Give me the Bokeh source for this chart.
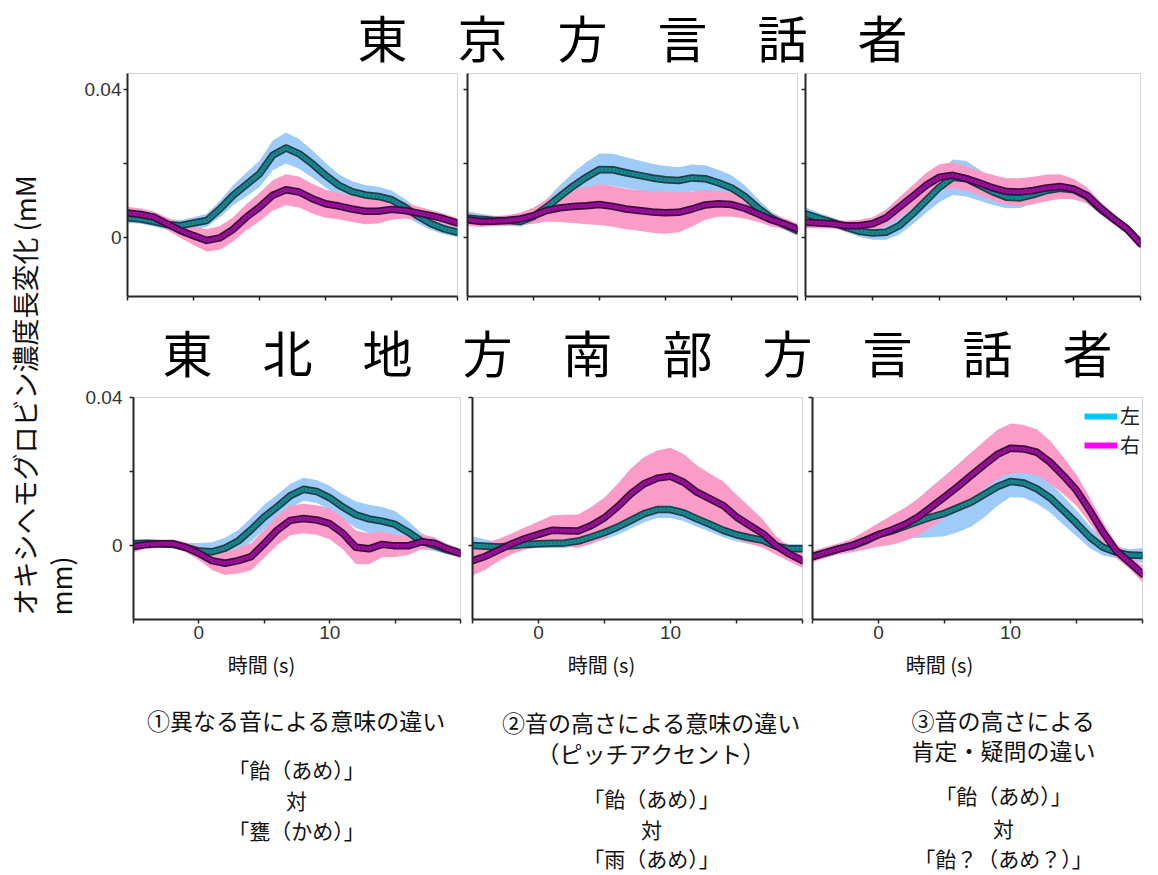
import numpy as np
from bokeh.plotting import figure
from bokeh.layouts import row, column
from bokeh.models import Range1d, FixedTicker, Legend, LegendItem
from bokeh.core.properties import value
from bokeh.embed import file_html
from bokeh.resources import INLINE

# ---------------- data ----------------
time_s = list(range(-5, 21))

# 東京方言話者 (row 1)
tokyo_c1_left = [0.0053,0.0050,0.0043,0.0035,0.0032,0.0039,0.0046,0.0077,0.0114,0.0143,0.0172,0.0222,0.0242,0.0226,0.0199,0.0168,0.0141,0.0124,0.0115,0.0111,0.0102,0.0082,0.0058,0.0037,0.0023,0.0014]
tokyo_c1_left_se = [0.0013,0.0013,0.0013,0.0014,0.0015,0.0016,0.0018,0.0022,0.0027,0.0032,0.0036,0.0040,0.0042,0.0040,0.0037,0.0033,0.0030,0.0028,0.0027,0.0026,0.0025,0.0023,0.0020,0.0017,0.0015,0.0013]
tokyo_c1_right = [0.0066,0.0062,0.0055,0.0037,0.0019,0.0005,-0.0008,-0.0001,0.0022,0.0055,0.0082,0.0114,0.0129,0.0123,0.0105,0.0091,0.0085,0.0077,0.0071,0.0071,0.0076,0.0073,0.0066,0.0059,0.0050,0.0039]
tokyo_c1_right_se = [0.0017,0.0016,0.0015,0.0017,0.0020,0.0025,0.0030,0.0032,0.0033,0.0035,0.0038,0.0041,0.0042,0.0042,0.0040,0.0038,0.0036,0.0035,0.0035,0.0033,0.0028,0.0022,0.0018,0.0015,0.0014,0.0013]

tokyo_c2_left = [0.0053,0.0049,0.0046,0.0046,0.0043,0.0057,0.0082,0.0111,0.0139,0.0163,0.0184,0.0183,0.0175,0.0168,0.0161,0.0156,0.0154,0.0161,0.0159,0.0148,0.0134,0.0111,0.0080,0.0053,0.0035,0.0019]
tokyo_c2_left_se = [0.0018,0.0015,0.0013,0.0013,0.0014,0.0016,0.0022,0.0030,0.0036,0.0040,0.0043,0.0043,0.0042,0.0040,0.0038,0.0037,0.0036,0.0036,0.0036,0.0035,0.0034,0.0030,0.0024,0.0018,0.0015,0.0015]
tokyo_c2_right = [0.0048,0.0043,0.0044,0.0046,0.0050,0.0059,0.0073,0.0080,0.0084,0.0086,0.0089,0.0084,0.0077,0.0073,0.0069,0.0067,0.0068,0.0077,0.0088,0.0091,0.0089,0.0079,0.0064,0.0048,0.0037,0.0023]
tokyo_c2_right_se = [0.0017,0.0015,0.0013,0.0014,0.0017,0.0022,0.0030,0.0038,0.0045,0.0050,0.0055,0.0055,0.0055,0.0055,0.0056,0.0057,0.0054,0.0047,0.0040,0.0035,0.0032,0.0028,0.0022,0.0018,0.0015,0.0015]

tokyo_c3_left = [0.0064,0.0052,0.0041,0.0028,0.0017,0.0012,0.0014,0.0032,0.0064,0.0100,0.0136,0.0163,0.0159,0.0141,0.0123,0.0109,0.0107,0.0116,0.0127,0.0133,0.0129,0.0111,0.0077,0.0050,0.0023,-0.0015]
tokyo_c3_left_se = [0.0018,0.0015,0.0013,0.0013,0.0015,0.0018,0.0020,0.0024,0.0028,0.0033,0.0040,0.0048,0.0048,0.0042,0.0035,0.0030,0.0027,0.0025,0.0022,0.0020,0.0018,0.0016,0.0014,0.0013,0.0013,0.0012]
tokyo_c3_right = [0.0041,0.0039,0.0037,0.0032,0.0032,0.0037,0.0053,0.0082,0.0111,0.0141,0.0163,0.0168,0.0159,0.0147,0.0134,0.0124,0.0123,0.0127,0.0134,0.0138,0.0131,0.0114,0.0080,0.0050,0.0023,-0.0017]
tokyo_c3_right_se = [0.0016,0.0014,0.0013,0.0013,0.0015,0.0018,0.0022,0.0027,0.0030,0.0033,0.0035,0.0035,0.0033,0.0033,0.0035,0.0036,0.0037,0.0037,0.0036,0.0033,0.0028,0.0022,0.0017,0.0014,0.0013,0.0012]

# 東北地方南部方言話者 (row 2)
tohoku_c1_left = [0.0005,0.0006,0.0005,0.0003,-0.0005,-0.0015,-0.0017,-0.0007,0.0012,0.0043,0.0077,0.0105,0.0135,0.0152,0.0146,0.0129,0.0104,0.0083,0.0072,0.0066,0.0057,0.0036,0.0012,0.0000,-0.0012,-0.0021]
tohoku_c1_left_se = [0.0011,0.0010,0.0010,0.0010,0.0012,0.0022,0.0026,0.0028,0.0030,0.0032,0.0033,0.0033,0.0032,0.0031,0.0031,0.0032,0.0034,0.0036,0.0038,0.0038,0.0036,0.0030,0.0022,0.0015,0.0012,0.0011]
tohoku_c1_right = [-0.0003,0.0003,0.0005,0.0005,-0.0005,-0.0021,-0.0041,-0.0048,-0.0041,-0.0030,0.0005,0.0042,0.0068,0.0073,0.0069,0.0059,0.0033,-0.0005,-0.0009,0.0003,-0.0001,-0.0001,0.0010,0.0006,-0.0009,-0.0021]
tohoku_c1_right_se = [0.0015,0.0012,0.0011,0.0011,0.0013,0.0018,0.0025,0.0032,0.0035,0.0037,0.0038,0.0040,0.0040,0.0040,0.0040,0.0042,0.0043,0.0045,0.0042,0.0035,0.0030,0.0025,0.0020,0.0016,0.0013,0.0013]

tohoku_c2_left = [0.0000,-0.0002,-0.0004,-0.0001,0.0003,0.0005,0.0006,0.0007,0.0012,0.0023,0.0035,0.0050,0.0068,0.0086,0.0097,0.0097,0.0088,0.0072,0.0057,0.0041,0.0029,0.0021,0.0014,-0.0002,-0.0009,-0.0009]
tohoku_c2_left_se = [0.0025,0.0018,0.0013,0.0011,0.0011,0.0012,0.0013,0.0014,0.0015,0.0017,0.0019,0.0021,0.0022,0.0023,0.0023,0.0023,0.0022,0.0021,0.0020,0.0019,0.0018,0.0017,0.0015,0.0014,0.0013,0.0013]
tohoku_c2_right = [-0.0041,-0.0029,-0.0012,0.0005,0.0019,0.0030,0.0041,0.0040,0.0039,0.0054,0.0075,0.0105,0.0140,0.0167,0.0182,0.0187,0.0171,0.0144,0.0126,0.0108,0.0077,0.0054,0.0032,0.0000,-0.0023,-0.0041]
tohoku_c2_right_se = [0.0040,0.0036,0.0030,0.0028,0.0030,0.0035,0.0040,0.0043,0.0045,0.0050,0.0055,0.0062,0.0068,0.0072,0.0075,0.0077,0.0076,0.0072,0.0068,0.0065,0.0060,0.0050,0.0038,0.0025,0.0020,0.0020]

tohoku_c3_left = [-0.0030,-0.0020,-0.0009,-0.0001,0.0012,0.0030,0.0039,0.0052,0.0065,0.0077,0.0087,0.0102,0.0117,0.0138,0.0159,0.0173,0.0169,0.0153,0.0129,0.0095,0.0060,0.0023,-0.0005,-0.0018,-0.0026,-0.0027]
tohoku_c3_left_se = [0.0012,0.0012,0.0012,0.0012,0.0013,0.0014,0.0016,0.0030,0.0045,0.0055,0.0062,0.0066,0.0066,0.0062,0.0052,0.0042,0.0040,0.0040,0.0040,0.0038,0.0035,0.0030,0.0022,0.0016,0.0016,0.0020]
tohoku_c3_right = [-0.0030,-0.0019,-0.0009,0.0000,0.0014,0.0029,0.0042,0.0057,0.0077,0.0104,0.0131,0.0159,0.0189,0.0218,0.0246,0.0263,0.0261,0.0252,0.0225,0.0189,0.0149,0.0095,0.0036,-0.0014,-0.0045,-0.0077]
tohoku_c3_right_se = [0.0015,0.0015,0.0015,0.0018,0.0025,0.0032,0.0040,0.0045,0.0050,0.0054,0.0057,0.0060,0.0062,0.0064,0.0066,0.0067,0.0065,0.0062,0.0058,0.0050,0.0042,0.0035,0.0028,0.0020,0.0018,0.0022]

x_tick_labeled = [0, 10]
x_tick_unlabeled = [-5, 5, 15, 20]
y_tick_labeled = [0, 0.04]
y_tick_unlabeled = [0.02]

title_tokyo = "東　京　方　言　話　者"
title_tohoku = "東　北　地　方　南　部　方　言　話　者"
ylabel_line1 = "オキシヘモグロビン濃度長変化 (mM"
ylabel_line2 = "mm)"
xlabel = "時間 (s)"
legend_labels = ["左", "右"]
captions = [
    ["①異なる音による意味の違い", None, "「飴（あめ）」", "対", "「甕（かめ）」"],
    ["②音の高さによる意味の違い", "（ピッチアクセント）", "「飴（あめ）」", "対", "「雨（あめ）」"],
    ["③音の高さによる", "肯定・疑問の違い", "「飴（あめ）」", "対", "「飴？（あめ？）」"],
]

# ---------------- styles ----------------
JP = "Noto Sans CJK JP"
BLUE_BAND = "#9ecbf8"
PINK_BAND = "#fb9cc8"
TEAL_OUT, TEAL_IN = "#1f3e46", "#168892"
PURP_OUT, PURP_IN = "#3e0b40", "#9b0f9c"
AX = "#262626"


def panel(width, height, yr, borders, left, left_se, right, right_se,
          ylabels=False, xlabels=False, y_standoff=2, legend_src=False):
    bl, br, bt, bb = borders
    p = figure(width=width, height=height, x_range=Range1d(-5, 20), y_range=yr,
               toolbar_location=None, output_backend="svg",
               min_border_left=bl, min_border_right=br,
               min_border_top=bt, min_border_bottom=bb)
    p.background_fill_color = "white"
    p.border_fill_color = "white"
    p.outline_line_color = "#d4d4d4"
    p.outline_line_width = 1
    p.grid.visible = False
    t = np.array(time_s)
    legend_renderers = None
    if legend_src:
        # plain-coloured copies of the means, hidden beneath the bands; they feed the legend
        r_l = p.line(t, left, line_color="#00c8ff", line_width=6)
        r_r = p.line(t, right, line_color="#ff00ff", line_width=6)
        legend_renderers = (r_l, r_r)
    for mean, se, col in ((left, left_se, BLUE_BAND), (right, right_se, PINK_BAND)):
        m, s = np.array(mean), np.array(se)
        p.varea(x=t, y1=m - s, y2=m + s, fill_color=col, fill_alpha=1.0)
    for mean, c_out, c_in in ((left, TEAL_OUT, TEAL_IN), (right, PURP_OUT, PURP_IN)):
        p.line(t, mean, line_color=c_out, line_width=7.5, line_join="round", line_cap="round")
        p.line(t, mean, line_color=c_in, line_width=4, line_join="round", line_cap="round")
        p.line(t, mean, line_color=c_out, line_width=1.5, line_dash="1 3", line_alpha=0.6)
    # axes
    if xlabels:
        p.xaxis.ticker = FixedTicker(ticks=x_tick_labeled, minor_ticks=x_tick_unlabeled)
    else:
        p.xaxis.ticker = FixedTicker(ticks=[], minor_ticks=x_tick_labeled + x_tick_unlabeled)
    if ylabels:
        p.yaxis.ticker = FixedTicker(ticks=y_tick_labeled, minor_ticks=y_tick_unlabeled)
        p.yaxis.major_label_overrides = {0: "0", 0.04: "0.04"}
    else:
        p.yaxis.ticker = FixedTicker(ticks=[], minor_ticks=y_tick_labeled + y_tick_unlabeled)
    for ax in (p.xaxis[0], p.yaxis[0]):
        ax.axis_line_color = AX
        ax.axis_line_width = 2
        ax.major_tick_line_color = AX
        ax.major_tick_line_width = 1.5
        ax.major_tick_in = 0
        ax.major_tick_out = 4
        ax.minor_tick_line_color = AX
        ax.minor_tick_line_width = 1.5
        ax.minor_tick_in = 0
        ax.minor_tick_out = 4
        ax.major_label_text_font = "Liberation Sans"
        ax.major_label_text_font_size = "19px"
        ax.major_label_text_color = "#333333"
    p.yaxis.major_label_standoff = y_standoff
    p.xaxis.major_label_standoff = 2
    return p, legend_renderers


def text_fig(w, h, x0, y0):
    f = figure(width=w, height=h, x_range=Range1d(x0, x0 + w), y_range=Range1d(y0 + h, y0),
               toolbar_location=None, output_backend="svg",
               x_axis_type=None, y_axis_type=None, min_border=0)
    f.outline_line_color = None
    f.grid.visible = False
    f.background_fill_color = "white"
    f.border_fill_color = "white"
    return f


# ---------------- row 1 (Tokyo) ----------------
yr_top = Range1d(-0.01595, 0.04432)
p1, _ = panel(382, 231, yr_top, (47, 5, 0, 8), tokyo_c1_left, tokyo_c1_left_se, tokyo_c1_right, tokyo_c1_right_se, ylabels=True, y_standoff=2)
p2, _ = panel(338, 231, yr_top, (5, 3, 0, 8), tokyo_c2_left, tokyo_c2_left_se, tokyo_c2_right, tokyo_c2_right_se)
p3, _ = panel(356, 231, yr_top, (5, 16, 0, 8), tokyo_c3_left, tokyo_c3_left_se, tokyo_c3_right, tokyo_c3_right_se)

# ---------------- row 2 (Tohoku) ----------------
yr_bot = Range1d(-0.02, 0.04)
p4, _ = panel(386, 262, yr_bot, (53, 6, 11, 29), tohoku_c1_left, tohoku_c1_left_se, tohoku_c1_right, tohoku_c1_right_se, ylabels=True, xlabels=True, y_standoff=7)
p5, _ = panel(340, 262, yr_bot, (6, 4, 11, 29), tohoku_c2_left, tohoku_c2_left_se, tohoku_c2_right, tohoku_c2_right_se, xlabels=True)
p6, (r_l, r_r) = panel(350, 262, yr_bot, (6, 14, 11, 29), tohoku_c3_left, tohoku_c3_left_se, tohoku_c3_right, tohoku_c3_right_se, xlabels=True, legend_src=True)

leg = Legend(items=[LegendItem(label=legend_labels[0], renderers=[r_l]),
                    LegendItem(label=legend_labels[1], renderers=[r_r])],
             location=(272, 160), orientation="vertical",
             glyph_width=33, glyph_height=18, label_height=18, spacing=0,
             padding=0, margin=0, label_standoff=3,
             label_text_font=JP, label_text_font_size="20px", label_text_color="#222222",
             border_line_color=None, background_fill_alpha=0)
p6.add_layout(leg)

# ---------------- titles ----------------
t1 = text_fig(1076, 73, 80, 0)
t1.text(x=[632], y=[35], text=[title_tokyo], text_font=value(JP), text_font_size="50px",
        text_align="center", text_baseline="middle", text_color="#000000")
t2 = text_fig(1076, 82, 80, 304)
t2.text(x=[637], y=[350], text=[title_tohoku], text_font=value(JP), text_font_size="50px",
        text_align="center", text_baseline="middle", text_color="#000000")

# ---------------- y label strip ----------------
yl = text_fig(80, 648, 0, 0)
yl.text(x=[24, 60], y=[615, 615], text=[ylabel_line1, ylabel_line2], angle=np.pi / 2,
        text_font=value(JP), text_font_size="27px", text_align="left",
        text_baseline="middle", text_color="#111111")

# ---------------- captions ----------------
cap = text_fig(1156, 225, 0, 648)
cap.text(x=[261, 601, 939], y=[664, 664, 664], text=[xlabel] * 3, text_font=value(JP),
         text_font_size="20px", text_align="center", text_baseline="middle", text_color="#111111")
cx = [296, 651, 1003]
head_y = [[719, None], [721, 752], [719, 749]]
body_y = [[768, 799, 829], [797, 828, 857], [794, 827, 857]]
hx, hy, ht, bx, by, bt = [], [], [], [], [], []
for i, lines in enumerate(captions):
    for j in range(2):
        if lines[j] is not None:
            hx.append(cx[i]); hy.append(head_y[i][j]); ht.append(lines[j])
    for j in range(3):
        bx.append(cx[i]); by.append(body_y[i][j]); bt.append(lines[2 + j])
cap.text(x=hx, y=hy, text=ht, text_font=value(JP), text_font_size="23px",
         text_align="center", text_baseline="middle", text_color="#111111")
cap.text(x=bx, y=by, text=bt, text_font=value(JP), text_font_size="21px",
         text_align="center", text_baseline="middle", text_color="#111111")

layout = column(row(yl, column(t1, row(p1, p2, p3), t2, row(p4, p5, p6))), cap)

open("out.html", "w").write(file_html(layout, INLINE))
